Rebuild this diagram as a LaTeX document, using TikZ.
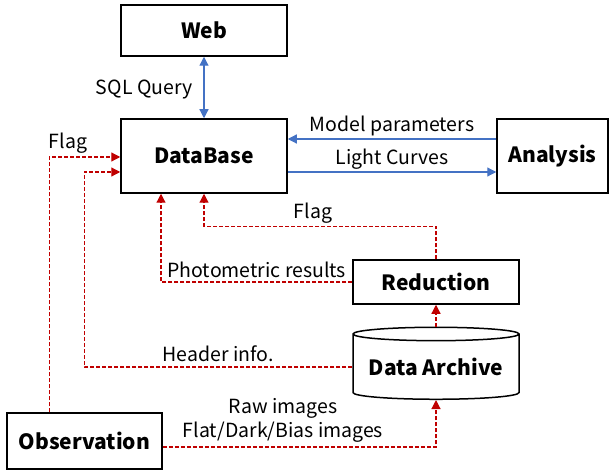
\documentclass[tikz,border=0pt]{standalone}
\usepackage{fontspec}
\setmainfont{Noto Sans CJK KR}
\usetikzlibrary{arrows.meta,calc,positioning,shapes.geometric}
\definecolor{linkblue}{RGB}{68,114,196}
\definecolor{flowred}{RGB}{192,0,0}
\tikzset{
  block/.style={draw, line width=1.5pt, font=\fontsize{21}{24}\selectfont\bfseries, inner sep=0pt},
  store/.style={block, cylinder, shape border rotate=90, aspect=0.1},
  lbl/.style={text=black, font=\fontsize{19.5}{24}\selectfont, inner sep=0pt},
  bluelink/.style={linkblue, line width=1.2pt, -{Triangle[length=9pt,width=9pt]}},
  redflow/.style={flowred, line width=1.2pt, dash pattern=on 4pt off 2pt, -{Triangle[length=9pt,width=9pt]}}
}
\begin{document}
\begin{tikzpicture}[x=1pt,y=-1pt]
\useasboundingbox (0,0) rectangle (610,473);
% boxes
\node[block, minimum width=166pt, minimum height=51pt] (web) at (204,30.5) {Web};
\node[block, minimum width=166pt, minimum height=74pt] (db) at (204,156) {DataBase};
\node[block, minimum width=111pt, minimum height=74pt] (analysis) at (552.5,156) {Analysis};
\node[block, minimum width=166pt, minimum height=44pt] (reduction) at (436,282) {Reduction};
\node[store, minimum width=166pt, minimum height=72pt] (archive) at (436,367) {Data Archive};
\node[block, minimum width=155pt, minimum height=56pt] (obs) at (84.5,441) {Observation};
% blue links
\draw[bluelink, {Triangle[length=9pt,width=9pt]}-{Triangle[length=9pt,width=9pt]}] (web) -- node[lbl, left=11pt, yshift=-2pt] {SQL Query} (db);
\draw[bluelink] ($(analysis.west)+(0,-17)$) -- node[lbl, above=2pt] {Model parameters} ($(db.east)+(0,-17)$);
\draw[bluelink] ($(db.east)+(0,16)$) -- node[lbl, above=2pt] {Light Curves} ($(analysis.west)+(0,16)$);
% red data flow
\draw[redflow] ($(obs.north west)+(43,0)$) |- node[pos=.5, lbl, above right=3pt and -1pt] {Flag} ($(db.west)+(0,1)$);
\draw[redflow] (archive.west) -- node[lbl, above=5pt] {Header info.} ($(archive.west -| db.west)+(-36,0)$) |- ($(db.west)+(0,16)$);
\draw[redflow] (reduction.west) -| node[pos=.25, lbl, above=4pt] {Photometric results} ($(db.south)+(-43,0)$);
\draw[redflow] (reduction.north) -- ++(0,-33) -| node[pos=.265, lbl, above=2pt] {Flag} (db.south);
\draw[redflow] (archive) -- (reduction);
\draw[redflow] ($(obs.east)+(0,6)$) -| node[pos=.22, lbl, above=4pt, align=center] {Raw images\\Flat/Dark/Bias images} (archive.south);
\end{tikzpicture}
\end{document}
